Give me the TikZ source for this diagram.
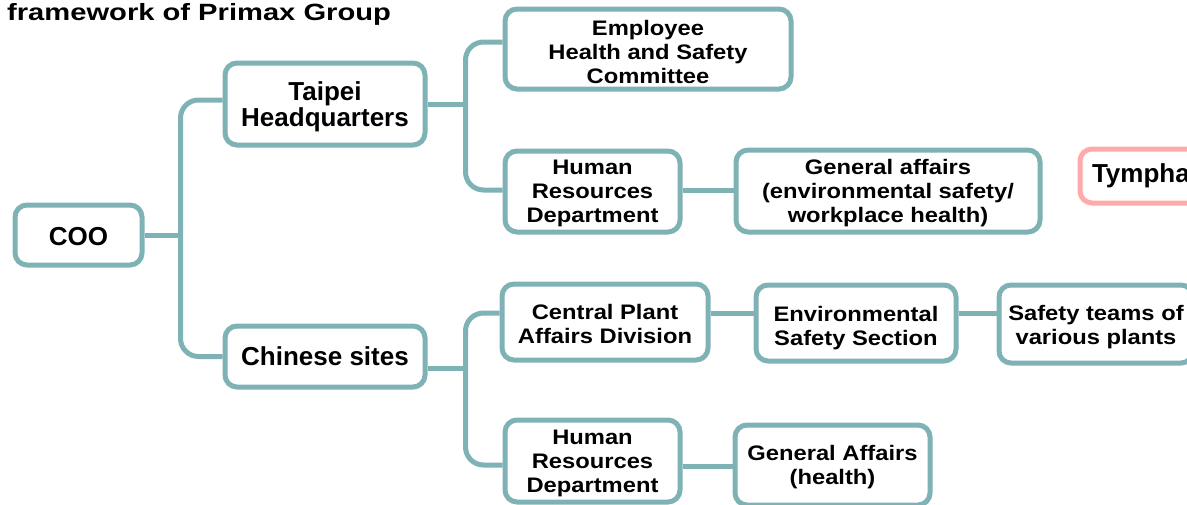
\documentclass[tikz,border=0pt]{standalone}
\usepackage{fontspec}
\setmainfont{Liberation Sans}
\newfontfamily\smf{Liberation Sans}[FakeStretch=1.13]
\newfontfamily\ttlf{Liberation Sans}[FakeStretch=1.24]
\usetikzlibrary{backgrounds}
\definecolor{teal1}{RGB}{127,178,181}
\definecolor{pink1}{RGB}{255,170,170}
\newcommand{\tup}[1]{\rule{0pt}{#1}}
\tikzset{
  box/.style={draw=teal1, line width=5pt, rounded corners=12pt, fill=white, inner sep=0pt, align=center, text=black},
  bigtxt/.style={font=\bfseries\fontsize{26}{26}\selectfont},
  smtxt/.style={font=\smf\bfseries\fontsize{21}{24}\selectfont},
  conn/.style={draw=teal1, line width=5pt, rounded corners=18pt}
}
\begin{document}
\begin{tikzpicture}[x=1pt,y=-1pt]
\useasboundingbox (0,0) rectangle (1187,504);
\clip (0,0) rectangle (1187,504);
\node[anchor=base west, inner sep=0pt, font=\ttlf\bfseries\fontsize{23.5}{24}\selectfont] (title) at (7,20) {framework of Primax Group};
\node[box, bigtxt, minimum width=127pt, minimum height=60pt] (coo) at (78.5,235) {\tup{20.6pt}COO};
\node[box, bigtxt, minimum width=200pt, minimum height=82pt] (taipei) at (325,104) {\tup{24.9pt}Taipei\\Headquarters};
\node[box, bigtxt, minimum width=200pt, minimum height=61pt] (chinese) at (325,356.5) {Chinese sites};
\node[box, smtxt, minimum width=286pt, minimum height=80pt] (emp) at (648,49) {\tup{21.3pt}Employee\\Health and Safety\\Committee};
\node[box, smtxt, minimum width=175pt, minimum height=81pt] (hr1) at (592.5,191.5) {\tup{19.3pt}Human\\Resources\\Department};
\node[box, smtxt, minimum width=304pt, minimum height=82pt] (ga1) at (888,191) {\tup{19.3pt}General affairs\\(environmental safety/\\workplace health)};
\node[box, bigtxt, draw=pink1, minimum width=210pt, minimum height=54pt, text width=186pt, align=left] (tym) at (1185,176) {Tymphany};
\node[box, smtxt, minimum width=206pt, minimum height=76pt] (cpa) at (605,322) {\tup{19.3pt}Central Plant\\Affairs Division};
\node[box, smtxt, minimum width=200pt, minimum height=76pt] (env) at (856,323) {\tup{25.3pt}Environmental\\Safety Section};
\node[box, smtxt, minimum width=194pt, minimum height=78pt] (safe) at (1096,324) {\tup{21.3pt}Safety teams of\\various plants};
\node[box, smtxt, minimum width=175pt, minimum height=82pt] (hr2) at (592.5,461) {\tup{19.3pt}Human\\Resources\\Department};
\node[box, smtxt, minimum width=195pt, minimum height=80pt] (ga2) at (832.5,465) {\tup{19.3pt}General Affairs\\(health)};
\begin{scope}[on background layer]
\coordinate (j0) at (183,235);
\draw[conn] (coo.east) -- (j0);
\draw[conn] ([yshift=4pt]taipei.west) -- ++(-42,0) |- (chinese.west);
\coordinate (j1) at (468,104);
\draw[conn] (taipei.east) -- (j1);
\draw[conn] ([yshift=7pt]emp.west) -- ++(-37,0) |- ([yshift=1.5pt]hr1.west);
\coordinate (j2) at (468,368);
\draw[conn] ([yshift=-11.5pt]chinese.east) -- (j2);
\draw[conn] ([yshift=9pt]cpa.west) -- ++(-34,0) |- ([yshift=-4pt]hr2.west);
\draw[conn] ([yshift=1.5pt]hr1.east) -- ([yshift=1pt]ga1.west);
\draw[conn] ([yshift=9pt]cpa.east) -- ([yshift=10pt]env.west);
\draw[conn] ([yshift=10pt]env.east) -- ([yshift=11pt]safe.west);
\draw[conn] ([yshift=-5pt]hr2.east) -- ([yshift=-1pt]ga2.west);
\end{scope}
\end{tikzpicture}
\end{document}
